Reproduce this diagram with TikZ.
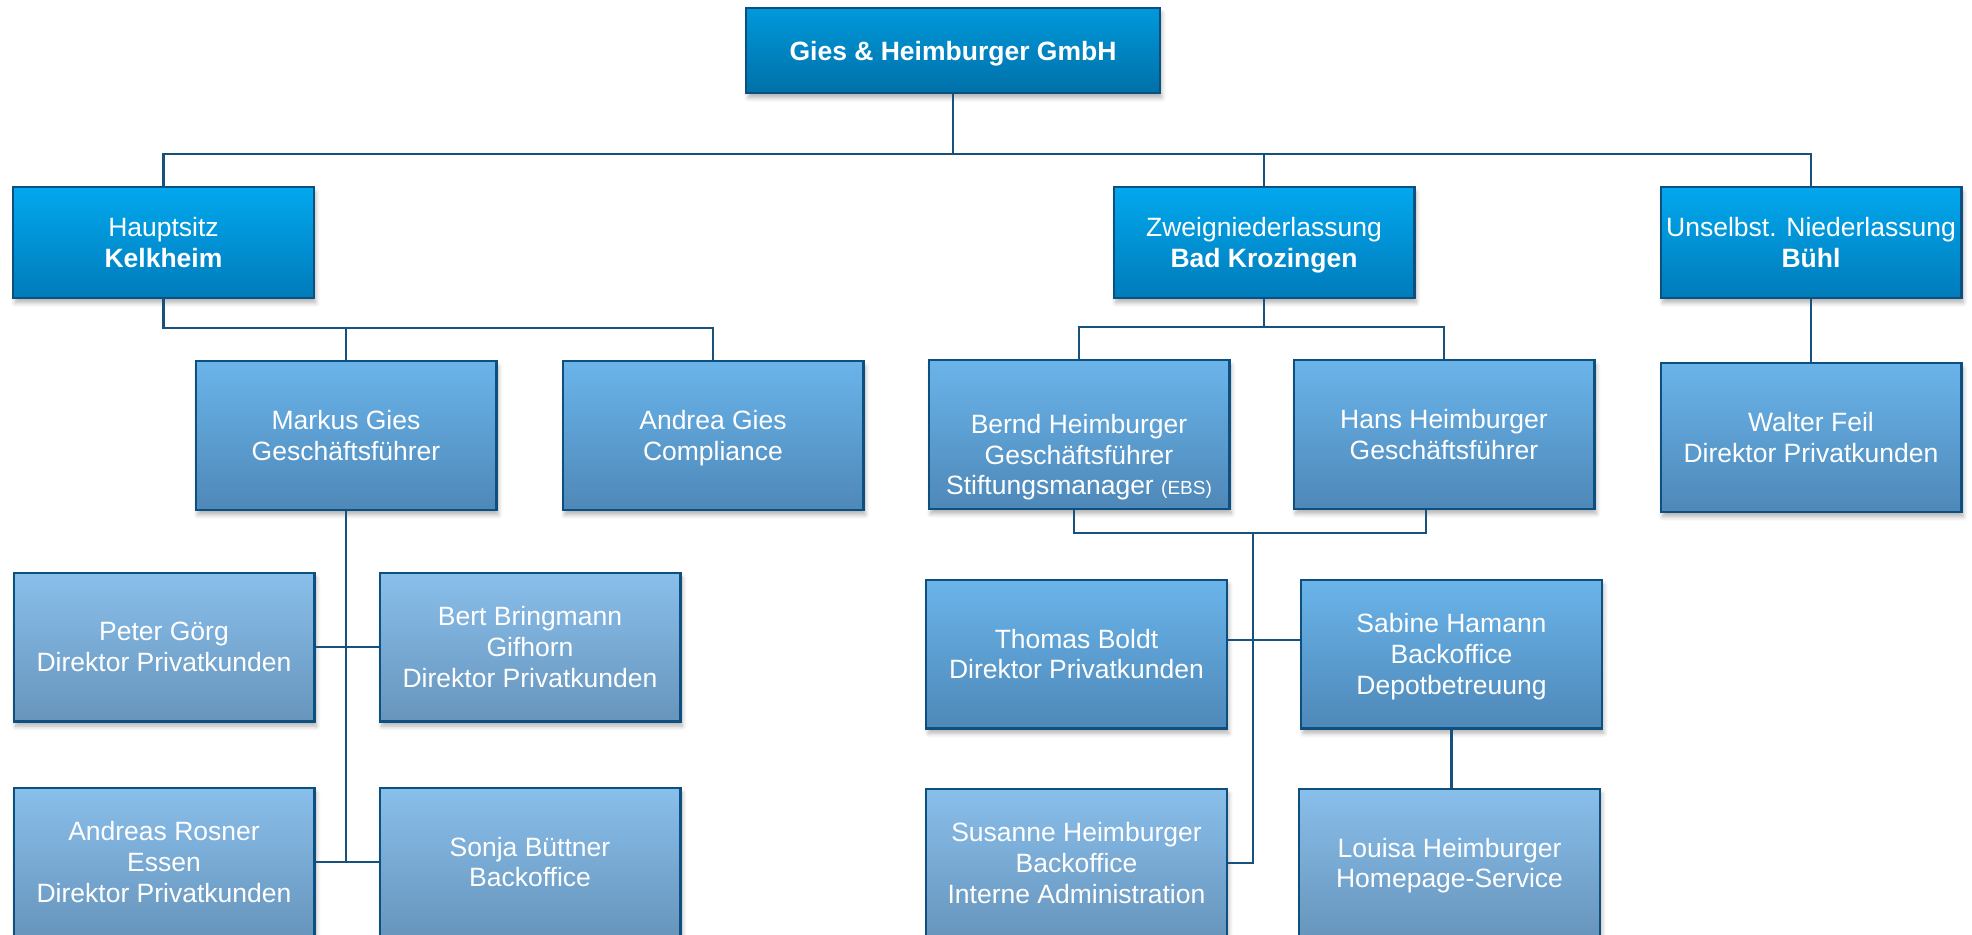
\documentclass[tikz,border=0pt]{standalone}
\usepackage{fontspec}
\setmainfont{Liberation Sans}
\usepackage{xcolor}
\usepackage{tikz}
\usetikzlibrary{positioning,calc,shadows.blur}
\definecolor{edgeblue}{HTML}{0D4F7F}
\definecolor{linkblue}{HTML}{17517E}
\definecolor{roottop}{HTML}{0099DB}
\definecolor{rootbot}{HTML}{0070A8}
\definecolor{unittop}{HTML}{02A8EE}
\definecolor{unitbot}{HTML}{007BBA}
\definecolor{headtop}{HTML}{6AB4EA}
\definecolor{headbot}{HTML}{4E88B8}
\definecolor{stafftop}{HTML}{89BFEB}
\definecolor{staffbot}{HTML}{6795BC}
\tikzset{
    box/.style={
        rectangle,
        draw=edgeblue,
        line width=1.2pt,
        text=white,
        align=center,
        inner sep=2pt,
        text depth=0pt,
        minimum width=150.3pt,
        blur shadow={shadow xshift=1pt,shadow yshift=-2.5pt,shadow opacity=30,shadow blur steps=6},
    },
    root/.style={box, top color=roottop, bottom color=rootbot, minimum width=206.8pt, minimum height=42.3pt},
    unit/.style={box, top color=unittop, bottom color=unitbot, minimum height=55.3pt},
    head/.style={box, top color=headtop, bottom color=headbot, minimum height=74.3pt},
    staff/.style={box, top color=stafftop, bottom color=staffbot, minimum height=74.3pt},
    link/.style={draw=linkblue, line width=1.2pt},
}

\begin{document}
\begin{tikzpicture}[x=0.5pt,y=-0.5pt,node distance=32pt and 31.5pt,font=\fontsize{13.25}{15.35}\selectfont]
    \useasboundingbox (0,0) rectangle (1972,934);
    \clip (0,0) rectangle (1972,934);
    % company and sites
    \node [root] (GmbH) at (953,50.5) {\textbf{Gies \& Heimburger GmbH}};
    \node [unit] (Haupt) at (163.5,242.5) {Hauptsitz\\\textbf{Kelkheim}};
    \node [unit] (Zweig) at (1264,242.5) {Zweigniederlassung\\\textbf{Bad Krozingen}};
    \node [unit] (Buehl) at (1811,242.5) {Unselbst. Niederlassung\\\textbf{Bühl}};
    % Kelkheim
    \node [head] (Markus) at (346,435.5) {Markus Gies\\Geschäftsführer};
    \node [head] (Andrea) [right=32pt of Markus] {Andrea Gies\\Compliance};
    \node [staff] (Peter) at (164,647) {Peter Görg\\Direktor Privatkunden};
    \node [staff] (Bert) [right=of Peter] {Bert Bringmann\\Gifhorn\\Direktor Privatkunden};
    \node [staff] (Andreas) [below=of Peter] {Andreas Rosner\\Essen\\Direktor Privatkunden};
    \node [staff] (Sonja) [right=of Andreas] {Sonja Büttner\\Backoffice};
    % Bad Krozingen
    \node [head] (Bernd) at (1079,434.5) {\rule{0pt}{29.5pt}Bernd Heimburger\\Geschäftsführer\\Stiftungsmanager {\fontsize{9.5}{15.35}\selectfont(EBS)}};
    \node [head] (Hans) [right=31pt of Bernd] {Hans Heimburger\\Geschäftsführer};
    \node [head] (Thomas) at (1076.5,654) {Thomas Boldt\\Direktor Privatkunden};
    \node [head] (Sabine) [right=36pt of Thomas] {Sabine Hamann\\Backoffice\\Depotbetreuung};
    \node [staff] (Susanne) [below=29pt of Thomas] {Susanne Heimburger\\Backoffice\\Interne Administration};
    \node [staff] (Louisa) [right=35pt of Susanne] {Louisa Heimburger\\Homepage-Service};
    % Buehl
    \node [head] (Walter) [below=31.5pt of Buehl] {Walter Feil\\Direktor Privatkunden};
    % connectors
    \coordinate (bus) at (953,154);
    \draw [link] (GmbH) -- (bus);
    \draw [link] (Haupt.north) |- (bus) -| (Buehl.north);
    \draw [link] (Zweig.north) -- (Zweig.north |- bus);
    \draw [link] (Haupt.south) -- ++(0,29) coordinate (hb) -| (Andrea.north);
    \draw [link] (Markus.north) -- (Markus.north |- hb);
    \draw [link] (Markus.south) -- (Markus.south |- Andreas.east);
    \draw [link] (Peter) -- (Bert);
    \draw [link] (Andreas) -- (Sonja);
    \draw [link] (Zweig.south) -- ++(0,28) coordinate (zb);
    \draw [link] (Bernd.north) |- (zb) -| (Hans.north);
    \draw [link] ([xshift=-2.5pt]Bernd.south) -- ++(0,23) coordinate (bh) -| ([xshift=-9pt]Hans.south);
    \coordinate (spine) at (1253,533);
    \draw [link] (spine) |- (Susanne.east);
    \draw [link] ([yshift=7pt]Thomas.east) -- ([yshift=7pt]Sabine.west);
    \draw [link] (Sabine.south) -- (Sabine.south |- Louisa.north);
    \draw [link] (Buehl) -- (Walter);
\end{tikzpicture}
\end{document}
